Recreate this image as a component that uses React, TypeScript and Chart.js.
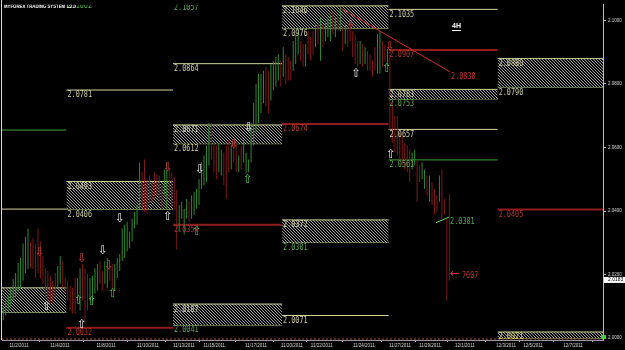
import React, { useEffect, useRef } from 'react';
import { Chart, registerables } from 'chart.js';

Chart.register(...registerables);

// ---- candle data (4H bars) ----
const highs = [
  2.0096, 2.0118, 2.0134, 2.0155, 2.0186, 2.0205, 2.0236, 2.0252, 2.0298, 2.0320,
  2.0345, 2.0304, 2.0314, 2.0298, 2.0345, 2.0304, 2.0258, 2.0220, 2.0211, 2.0196,
  2.0180, 2.0205, 2.0227, 2.0258, 2.0242, 2.0189, 2.0180, 2.0165, 2.0158, 2.0189,
  2.0189, 2.0220, 2.0233, 2.0220, 2.0202, 2.0189, 2.0196, 2.0220, 2.0233, 2.0242,
  2.0211, 2.0242, 2.0252, 2.0242, 2.0233, 2.0233, 2.0252, 2.0264, 2.0345, 2.0357,
  2.0366, 2.0335, 2.0376, 2.0398, 2.0419, 2.0553, 2.0522, 2.0562, 2.0500, 2.0512,
  2.0491, 2.0522, 2.0516, 2.0512, 2.0481, 2.0531, 2.0553, 2.0537, 2.0522, 2.0506,
  2.0466, 2.0419, 2.0429, 2.0407, 2.0438, 2.0429, 2.0450, 2.0460, 2.0469, 2.0500,
  2.0553, 2.0575, 2.0606, 2.0677, 2.0677, 2.0615, 2.0606, 2.0615, 2.0593, 2.0584,
  2.0606, 2.0624, 2.0606, 2.0624, 2.0615, 2.0575, 2.0606, 2.0624, 2.0584, 2.0562,
  2.0677, 2.0739, 2.0801, 2.0832, 2.0832, 2.0842, 2.0854, 2.0842, 2.0863, 2.0873,
  2.0885, 2.0894, 2.0873, 2.0916, 2.0894, 2.0885, 2.0873, 2.0935, 2.0957, 2.0978,
  2.0935, 2.0925, 2.0925, 2.0966, 2.0947, 2.0966, 2.0988, 2.0988, 2.1009, 2.0988,
  2.0997, 2.1009, 2.1019, 2.1028, 2.1009, 2.1019, 2.1040, 2.0978, 2.0988, 2.0978,
  2.0997, 2.0966, 2.0957, 2.0935, 2.0935, 2.0925, 2.0916, 2.0904, 2.0894, 2.0873,
  2.0916, 2.0957, 2.0966, 2.0935, 2.0925, 2.0910, 2.0904, 2.0748, 2.0699, 2.0699,
  2.0655, 2.0637, 2.0615, 2.0606, 2.0593, 2.0584, 2.0593, 2.0562, 2.0543, 2.0553,
  2.0531, 2.0512, 2.0512, 2.0491, 2.0469, 2.0450, 2.0512, 2.0531, 2.0438, 2.0376,
  2.0453,
];
const lows = [
  2.0056, 2.0071, 2.0087, 2.0102, 2.0118, 2.0127, 2.0143, 2.0158, 2.0180, 2.0205,
  2.0217, 2.0220, 2.0217, 2.0189, 2.0205, 2.0189, 2.0171, 2.0127, 2.0118, 2.0109,
  2.0112, 2.0127, 2.0158, 2.0171, 2.0158, 2.0140, 2.0118, 2.0087, 2.0078, 2.0078,
  2.0118, 2.0087, 2.0118, 2.0047, 2.0087, 2.0118, 2.0109, 2.0140, 2.0149, 2.0171,
  2.0149, 2.0171, 2.0158, 2.0180, 2.0149, 2.0149, 2.0189, 2.0211, 2.0242, 2.0252,
  2.0273, 2.0283, 2.0304, 2.0345, 2.0357, 2.0407, 2.0407, 2.0398, 2.0388, 2.0419,
  2.0429, 2.0438, 2.0450, 2.0429, 2.0407, 2.0450, 2.0407, 2.0438, 2.0413, 2.0404,
  2.0279, 2.0335, 2.0376, 2.0326, 2.0376, 2.0366, 2.0376, 2.0388, 2.0407, 2.0419,
  2.0469, 2.0481, 2.0491, 2.0543, 2.0562, 2.0522, 2.0500, 2.0522, 2.0512, 2.0481,
  2.0438, 2.0522, 2.0531, 2.0553, 2.0522, 2.0522, 2.0531, 2.0553, 2.0522, 2.0522,
  2.0553, 2.0606, 2.0646, 2.0677, 2.0708, 2.0739, 2.0730, 2.0708, 2.0748, 2.0780,
  2.0792, 2.0811, 2.0792, 2.0823, 2.0801, 2.0811, 2.0811, 2.0842, 2.0863, 2.0894,
  2.0873, 2.0854, 2.0854, 2.0894, 2.0873, 2.0894, 2.0916, 2.0925, 2.0873, 2.0916,
  2.0935, 2.0947, 2.0935, 2.0957, 2.0947, 2.0966, 2.0966, 2.0904, 2.0925, 2.0916,
  2.0935, 2.0885, 2.0863, 2.0854, 2.0863, 2.0854, 2.0863, 2.0842, 2.0842, 2.0823,
  2.0842, 2.0832, 2.0832, 2.0854, 2.0873, 2.0857, 2.0655, 2.0615, 2.0584, 2.0575,
  2.0562, 2.0543, 2.0531, 2.0522, 2.0491, 2.0531, 2.0543, 2.0429, 2.0491, 2.0500,
  2.0469, 2.0450, 2.0429, 2.0419, 2.0388, 2.0398, 2.0429, 2.0376, 2.0388, 2.0118,
  2.0180,
];
const bullish = [
  1, 1, 1, 1, 1, 1, 1, 1, 1, 1,
  1, 0, 0, 0, 0, 0, 0, 0, 0, 0,
  0, 0, 1, 1, 0, 0, 0, 0, 0, 0,
  1, 1, 0, 0, 0, 1, 1, 1, 1, 0,
  0, 1, 1, 0, 0, 1, 1, 1, 1, 1,
  1, 1, 1, 1, 1, 1, 0, 0, 0, 0,
  0, 0, 0, 0, 0, 1, 1, 0, 0, 0,
  0, 1, 1, 1, 1, 0, 1, 1, 1, 1,
  1, 1, 1, 1, 0, 0, 0, 1, 1, 0,
  0, 0, 1, 0, 0, 1, 0, 1, 1, 1,
  1, 1, 1, 1, 1, 1, 0, 0, 1, 1,
  1, 1, 0, 1, 0, 0, 0, 1, 1, 1,
  0, 0, 1, 0, 0, 0, 1, 0, 1, 0,
  1, 1, 1, 0, 1, 0, 1, 0, 1, 0,
  0, 0, 0, 0, 1, 0, 1, 0, 0, 0,
  0, 1, 1, 0, 0, 1, 0, 0, 0, 0,
  0, 0, 0, 0, 0, 1, 1, 0, 0, 1,
  1, 0, 1, 0, 0, 0, 1, 0, 0, 0,
  0,
];
const currentPrice = 2.0183;

// ---- axis ticks ----
const dateTickPos = [6.9, 23.4, 42, 58.9, 73.4, 85.6, 102.5, 117, 129, 146, 160.6, 172.7, 186.8, 203.4, 214.3, 230.4];
const dateTickLabels = [
  '11/2/2011', '11/4/2011', '11/8/2011', '11/10/2011', '11/13/2011', '11/15/2011',
  '11/17/2011', '11/20/2011', '11/22/2011', '11/24/2011', '11/27/2011', '11/29/2011',
  '12/1/2011', '12/3/2011', '12/5/2011', '12/7/2011',
];
const priceTicks = [2.0, 2.02, 2.04, 2.06, 2.08, 2.1];

// ---- weekly levels: [fromBar, toBar, price, kind] ----
const levelLines: [number, number, number, string][] = [
  [0, 26, 2.0655, 'green'],
  [0, 26, 2.0406, 'pale'],
  [26, 69, 2.1062, 'green'],
  [26, 69, 2.0781, 'pale'],
  [26, 69, 2.0032, 'red'],
  [69, 113, 2.1057, 'green'],
  [69, 113, 2.0864, 'pale'],
  [69, 113, 2.0357, 'red'],
  [113, 156, 2.0674, 'red'],
  [113, 156, 2.0071, 'pale'],
  [156, 200, 2.1035, 'pale'],
  [156, 200, 2.0907, 'red'],
  [156, 200, 2.0657, 'pale'],
  [156, 200, 2.0561, 'green'],
  [200, 242.5, 2.0405, 'red'],
  [0, 242.5, 1.9997, 'dotted'],
];
// ---- zones: [fromBar, toBar, top, bottom] ----
const zones: [number, number, number, number][] = [
  [0, 26, 2.0158, 2.0081],
  [26, 69, 2.0493, 2.0406],
  [69, 113, 2.0671, 2.0612],
  [69, 113, 2.0107, 2.0041],
  [113, 156, 2.1046, 2.0976],
  [113, 156, 2.0372, 2.0301],
  [156, 200, 2.0783, 2.0753],
  [200, 242.5, 2.0880, 2.0790],
  [200, 242.5, 2.0019, 2.0000],
];
// ---- trend lines: [x0, y0, x1, y1, kind] ----
const trendLines: [number, number, number, number, string][] = [
  [136.4, 2.1040, 180.8, 2.0838, 'redBright'],
  [175.1, 2.0363, 180.4, 2.0381, 'greenBright'],
];
// ---- labels: [bar, price, text, kind] ----
const levelLabels: [number, number, string, string][] = [
  [26, 2.1062, '2.1062', 'green'],
  [26, 2.0781, '2.0781', 'pale'],
  [26, 2.0493, '2.0493', 'pale'],
  [26, 2.0406, '2.0406', 'pale'],
  [26, 2.0032, '2.0032', 'red'],
  [69, 2.1057, '2.1057', 'green'],
  [69, 2.0864, '2.0864', 'pale'],
  [69, 2.0671, '2.0671', 'pale'],
  [69, 2.0612, '2.0612', 'pale'],
  [69, 2.0357, '2.0357', 'red'],
  [69, 2.0107, '2.0107', 'pale'],
  [69, 2.0041, '2.0041', 'green'],
  [113, 2.1046, '2.1046', 'pale'],
  [113, 2.0976, '2.0976', 'pale'],
  [113, 2.0674, '2.0674', 'red'],
  [113, 2.0372, '2.0372', 'pale'],
  [113, 2.0301, '2.0301', 'green'],
  [113, 2.0071, '2.0071', 'pale'],
  [156, 2.1035, '2.1035', 'pale'],
  [156, 2.0907, '2.0907', 'red'],
  [156, 2.0783, '2.0783', 'pale'],
  [156, 2.0753, '2.0753', 'green'],
  [156, 2.0657, '2.0657', 'pale'],
  [156, 2.0561, '2.0561', 'green'],
  [200, 2.0880, '2.0880', 'pale'],
  [200, 2.0790, '2.0790', 'pale'],
  [200, 2.0405, '2.0405', 'red'],
  [200, 2.0019, '2.0021', 'yellow'],
  [180.8, 2.0838, '2.0838', 'redBright'],
  [180.4, 2.0381, '2.0381', 'green'],
  [185.2, 2.0211, '7007', 'red'],
];
// ---- signal markers: [bar, price, type] ----
const markers: [number, number, string][] = [
  [18.2, 2.0099, 'up'], [32.3, 2.0040, 'up'], [67.0, 2.0382, 'up'], [142.9, 2.0832, 'up'], [157.0, 2.0578, 'up'],
  [40.8, 2.0273, 'down'], [47.6, 2.0376, 'down'], [79.9, 2.0531, 'down'], [99.7, 2.0661, 'down'],
  [31.1, 2.0118, 'buy'], [36.3, 2.0115, 'buy'], [44.8, 2.0140, 'buy'], [78.7, 2.0335, 'buy'], [99.3, 2.0497, 'buy'], [155.4, 2.0848, 'buy'],
  [15.3, 2.0267, 'sell'], [32.3, 2.0248, 'sell'], [43.2, 2.0227, 'sell'], [67.0, 2.0537, 'sell'], [93.6, 2.0609, 'sell'], [140.8, 2.0988, 'sell'], [156.6, 2.0916, 'sell'],
  [182.8, 2.0202, 'left'],
];

const lineColor: Record<string, string> = {
  pale: '#d4d4a0', green: '#3f9f3f', red: '#8f1d1d', dotted: '#b04848',
  redBright: '#d42a2a', greenBright: '#6fe06f',
};
const labelColor: Record<string, string> = {
  pale: '#cfcfa6', green: '#5aaa5a', red: '#b53232', redBright: '#c83030', yellow: '#d8d060',
};
const markerGlyph: Record<string, [string, string]> = {
  up: ['\u21E7', '#e8e8e8'], down: ['\u21E9', '#e8e8e8'],
  buy: ['\u21E7', '#4fbf4f'], sell: ['\u21E9', '#c83a3a'], left: ['\u2190', '#c83a3a'],
};

const overlay = {
  id: 'overlay',
  beforeDraw(chart: any) {
    const { ctx, width, height } = chart;
    ctx.save();
    ctx.fillStyle = '#000';
    ctx.fillRect(0, 0, width, height);
    ctx.restore();
  },
  afterDatasetsDraw(chart: any) {
    const { ctx, chartArea, scales } = chart;
    const x = scales.x;
    const y = scales.y;
    ctx.save();
    ctx.beginPath();
    ctx.rect(chartArea.left, chartArea.top, chartArea.right - chartArea.left, chartArea.bottom - chartArea.top);
    ctx.clip();
    ctx.textBaseline = 'top';
    ctx.font = '8.5px "DejaVu Sans Mono"';
    for (const [bx, price, text, kind] of levelLabels) {
      const px = x.getPixelForValue(bx) + 1;
      const py = y.getPixelForValue(price) + 1;
      ctx.save();
      ctx.translate(px, py);
      ctx.scale(0.8, 1);
      ctx.fillStyle = labelColor[kind];
      ctx.fillText(text, 0, 0);
      ctx.restore();
    }
    ctx.textAlign = 'center';
    ctx.textBaseline = 'middle';
    ctx.font = '12px "DejaVu Sans"';
    for (const [bx, price, type] of markers) {
      const [g, c] = markerGlyph[type];
      ctx.fillStyle = c;
      ctx.fillText(g, x.getPixelForValue(bx), y.getPixelForValue(price));
    }
    // title and timeframe
    ctx.textAlign = 'left';
    ctx.textBaseline = 'top';
    ctx.fillStyle = '#ffffff';
    ctx.save();
    ctx.translate(4, 3);
    ctx.scale(0.72, 1);
    ctx.font = 'bold 6px "Liberation Sans"';
    ctx.fillText('MYFOREX TRADING SYSTEM 1.2.0', 0, 0);
    ctx.restore();
    ctx.font = 'bold 7px "Liberation Sans"';
    ctx.fillText('4H', 452, 23);
    ctx.fillRect(452, 30, 9, 1);
    ctx.restore();

    // frame
    ctx.save();
    ctx.fillStyle = '#d8d8d8';
    ctx.fillRect(1, 0, 1, chartArea.bottom);
    // current price box
    const cy = y.getPixelForValue(currentPrice);
    ctx.fillStyle = '#ffffff';
    ctx.fillRect(chartArea.right + 1, cy - 3, 21, 6);
    ctx.fillStyle = '#000';
    ctx.font = '5px "Liberation Sans"';
    ctx.textBaseline = 'middle';
    ctx.fillText(currentPrice.toFixed(4), chartArea.right + 5, cy);
    ctx.fillStyle = '#40d040';
    ctx.fillRect(chartArea.right - 2, chartArea.bottom - 5, 5, 4);
    ctx.restore();
  },
};

export default function App() {
  const ref = useRef<HTMLCanvasElement | null>(null);
  useEffect(() => {
    document.body.style.margin = '0';
    document.body.style.background = '#000';
    const canvas = ref.current!;
    const c2d = canvas.getContext('2d')!;
    const pc = document.createElement('canvas');
    pc.width = 3;
    pc.height = 3;
    const pctx = pc.getContext('2d')!;
    pctx.fillStyle = '#000';
    pctx.fillRect(0, 0, 3, 3);
    pctx.fillStyle = '#a4a4a4';
    for (let i = 0; i < 3; i++) pctx.fillRect(i, i, 1, 1);
    const hatch = c2d.createPattern(pc, 'repeat');

    const datasets: any[] = [];
    datasets.push({
      type: 'bar',
      data: highs.map((h, i) => ({ x: i + 0.5, y: [lows[i], h] })),
      backgroundColor: bullish.map((b) => (b ? '#2f8a2f' : '#7e1a1a')),
      barThickness: 1,
      inflateAmount: 0,
      borderWidth: 0,
      order: 0,
    });
    for (const [x0, y0, x1, y1, kind] of trendLines) {
      datasets.push({
        type: 'line',
        data: [{ x: x0, y: y0 }, { x: x1, y: y1 }],
        borderColor: lineColor[kind],
        borderWidth: 1,
        pointRadius: 0,
        fill: false,
        order: 1,
      });
    }
    for (const [from, to, price, kind] of levelLines) {
      datasets.push({
        type: 'line',
        data: [{ x: from, y: price }, { x: to, y: price }],
        borderColor: lineColor[kind],
        borderWidth: kind === 'red' ? 2 : 1,
        borderDash: kind === 'dotted' ? [2, 2] : [],
        pointRadius: 0,
        fill: false,
        order: 2,
      });
    }
    for (const [from, to, top, bottom] of zones) {
      datasets.push({
        type: 'line',
        data: [{ x: from, y: top }, { x: to, y: top }],
        borderColor: '#c9d49a',
        borderWidth: 1,
        pointRadius: 0,
        fill: '+1',
        backgroundColor: hatch,
        order: 3,
      });
      datasets.push({
        type: 'line',
        data: [{ x: from, y: bottom }, { x: to, y: bottom }],
        borderColor: '#b6d08a',
        borderWidth: 1,
        pointRadius: 0,
        fill: false,
        order: 3,
      });
    }

    const chart = new Chart(canvas, {
      type: 'bar',
      data: { datasets },
      options: {
        animation: false,
        responsive: false,
        maintainAspectRatio: false,
        layout: { padding: { left: 2, top: 0, right: 0, bottom: 0 } },
        plugins: { legend: { display: false }, tooltip: { enabled: false } },
        scales: {
          x: {
            type: 'linear',
            min: 0,
            max: 242.5,
            offset: false,
            afterFit: (s: any) => { s.height = 10; },
            afterBuildTicks: (s: any) => { s.ticks = dateTickPos.map((v) => ({ value: v })); },
            ticks: {
              autoSkip: false,
              maxRotation: 0,
              color: '#d8d8d8',
              font: { size: 4.5, family: 'Liberation Sans' },
              padding: 1,
              callback: (v: any) => {
                const i = dateTickPos.indexOf(Number(v));
                return i >= 0 ? dateTickLabels[i] : '';
              },
            },
            grid: { drawOnChartArea: false, drawTicks: true, tickLength: 2, color: '#bbbbbb' },
            border: { color: '#9a9a9a' },
          },
          y: {
            type: 'linear',
            position: 'right',
            min: 1.99938,
            max: 2.10497,
            afterFit: (s: any) => { s.width = 22; },
            afterBuildTicks: (s: any) => { s.ticks = priceTicks.map((v) => ({ value: v })); },
            ticks: {
              color: '#d8d8d8',
              font: { size: 4.5, family: 'Liberation Sans' },
              padding: 2,
              callback: (v: any) => Number(v).toFixed(4),
            },
            grid: { drawOnChartArea: false, drawTicks: true, tickLength: 3, color: '#bbbbbb' },
            border: { color: '#bbbbbb' },
          },
        },
      },
      plugins: [overlay],
    });
    return () => chart.destroy();
  }, []);
  return <canvas ref={ref} width={625} height={350} style={{ display: 'block' }} />;
}
